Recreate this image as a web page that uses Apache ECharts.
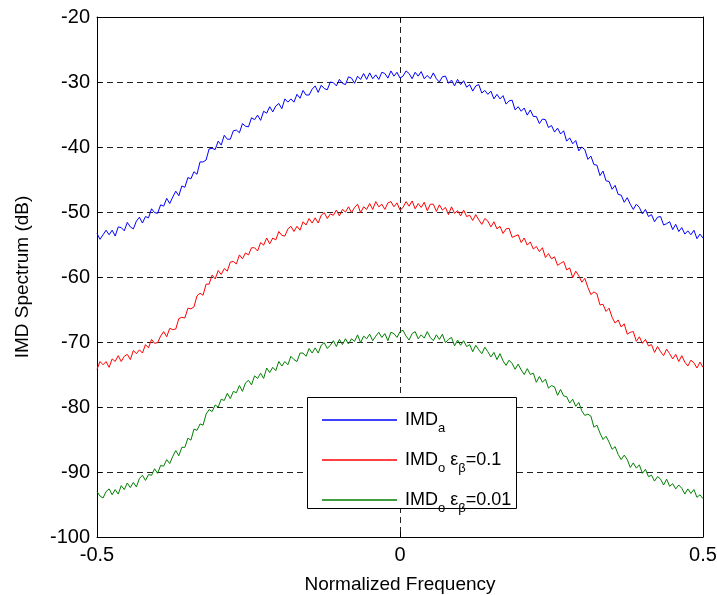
<!DOCTYPE html>
<html>
<head>
<meta charset="utf-8">
<title>IMD Spectrum</title>
<script src="https://cdn.jsdelivr.net/npm/echarts@6/dist/echarts.min.js"></script>
<style>
  html, body { margin: 0; padding: 0; background: #fff; }
  #chart { width: 717px; height: 595px; }
</style>
</head>
<body>
<div id="chart"></div>
<script>
// Sample grid on the normalized-frequency axis (-0.5 .. 0.5, step 0.005)
const freqStart = -0.5;
const freqStep = 0.005;

// Values (dB), one per frequency sample
const imdA = [
  -53.3, -54.2, -53.5, -52.8, -53.5, -52.8, -53.7, -52.3, -52.4, -52.9,
  -51.6, -52.3, -52.6, -51.4, -50.8, -51.7, -50.7, -50.9, -49.5, -50.1,
  -50.2, -48.9, -49.1, -47.9, -48.7, -47.7, -46.8, -47.5, -46.0, -46.2,
  -44.7, -44.9, -43.8, -44.2, -42.3, -42.3, -42.0, -40.3, -40.2, -40.4,
  -39.1, -39.7, -38.2, -38.8, -38.8, -37.5, -37.4, -37.8, -36.4, -36.8,
  -36.9, -35.5, -35.8, -35.1, -35.9, -34.5, -34.8, -33.8, -34.6, -33.7,
  -33.3, -34.1, -32.6, -33.1, -32.6, -33.1, -31.9, -32.5, -31.3, -32.0,
  -32.0, -31.1, -30.6, -31.6, -30.5, -31.0, -31.2, -30.0, -30.1, -30.6,
  -29.6, -30.2, -30.4, -29.2, -29.4, -30.2, -29.1, -29.6, -28.7, -29.6,
  -28.6, -29.5, -28.9, -29.6, -28.5, -28.7, -29.4, -28.3, -29.1, -28.5,
  -29.4,
  -29.1, -28.3, -28.7, -29.5, -28.5, -29.1, -28.4, -29.5, -29.0, -29.5,
  -28.6, -29.5, -30.0, -29.2, -29.1, -30.2, -29.7, -30.6, -29.6, -30.4,
  -29.8, -30.8, -30.4, -31.4, -30.6, -30.4, -31.7, -31.3, -31.9, -31.4,
  -32.6, -31.9, -32.6, -32.1, -33.4, -32.9, -32.8, -34.3, -33.8, -34.5,
  -34.0, -35.1, -34.3, -35.3, -35.3, -36.4, -35.7, -35.8, -37.0, -36.7,
  -37.7, -37.1, -38.0, -37.5, -39.1, -38.6, -39.5, -39.0, -40.6, -40.0,
  -40.4, -41.9, -41.4, -42.7, -42.8, -44.4, -43.7, -45.2, -45.3, -46.5,
  -45.9, -47.3, -47.4, -48.5, -47.8, -48.8, -49.6, -48.8, -49.3, -50.3,
  -49.6, -50.7, -50.4, -51.5, -50.8, -50.7, -52.0, -51.8, -51.5, -52.7,
  -51.9, -53.0, -52.4, -53.4, -52.9, -53.5, -52.8, -54.1, -53.4, -54.0
];

const imdO01 = [
  -74.2, -73.0, -73.5, -73.0, -73.9, -72.6, -73.0, -72.1, -73.0, -72.2,
  -71.9, -72.7, -71.3, -71.8, -71.2, -71.7, -70.4, -70.9, -69.6, -70.2,
  -70.1, -69.1, -68.4, -69.2, -67.9, -68.1, -68.0, -66.4, -66.2, -66.3,
  -64.8, -64.9, -64.6, -62.9, -62.5, -62.8, -61.1, -61.1, -59.7, -60.3,
  -59.0, -59.6, -58.7, -59.1, -57.7, -57.6, -58.0, -56.6, -57.2, -56.3,
  -56.6, -55.5, -55.5, -56.0, -54.7, -55.1, -54.0, -54.9, -54.0, -54.3,
  -53.0, -53.6, -53.7, -52.6, -52.2, -53.0, -52.2, -52.8, -51.5, -52.0,
  -51.0, -51.7, -50.9, -51.7, -50.5, -50.1, -51.0, -50.3, -50.5, -49.7,
  -50.6, -49.6, -50.0, -49.2, -50.1, -49.3, -48.8, -50.1, -49.2, -49.6,
  -48.7, -49.6, -48.4, -49.2, -48.8, -49.6, -48.6, -48.4, -49.2, -48.6,
  -49.7,
  -49.3, -48.4, -49.1, -48.3, -49.5, -48.7, -49.3, -48.5, -49.8, -48.8,
  -48.8, -49.9, -48.9, -49.7, -49.3, -50.4, -49.2, -50.2, -49.8, -50.6,
  -49.7, -50.7, -50.5, -51.3, -50.4, -51.2, -51.9, -51.0, -51.4, -52.3,
  -51.5, -52.6, -52.2, -53.3, -52.6, -52.5, -53.9, -53.7, -53.5, -54.7,
  -54.0, -55.1, -54.6, -55.7, -55.3, -56.1, -55.5, -57.0, -56.4, -57.2,
  -56.9, -58.2, -57.9, -57.6, -58.9, -58.6, -60.1, -59.1, -59.8, -60.8,
  -60.2, -61.6, -62.7, -62.3, -62.6, -64.3, -64.2, -65.3, -64.8, -66.2,
  -67.1, -66.6, -67.7, -67.2, -68.8, -68.5, -68.4, -69.9, -69.2, -70.2,
  -69.6, -70.6, -70.4, -71.6, -70.7, -71.5, -72.1, -71.1, -71.8, -72.6,
  -71.9, -73.0, -72.1, -73.1, -73.7, -72.8, -73.2, -74.0, -73.1, -73.9
];

const imdO001 = [
  -93.0, -93.7, -94.0, -93.0, -92.6, -93.5, -92.7, -93.4, -92.1, -92.7,
  -91.7, -92.4, -91.6, -92.3, -91.0, -90.5, -91.3, -90.4, -90.5, -89.5,
  -90.2, -89.0, -89.1, -88.1, -88.7, -87.6, -86.7, -87.5, -86.2, -86.2,
  -84.8, -85.1, -83.4, -83.6, -82.6, -82.8, -81.1, -80.4, -80.7, -79.7,
  -80.0, -78.8, -79.0, -77.9, -78.7, -77.6, -77.8, -76.7, -77.6, -76.3,
  -75.9, -76.6, -75.2, -75.6, -74.8, -75.6, -74.0, -74.7, -73.9, -74.4,
  -73.0, -73.7, -73.0, -73.5, -72.2, -72.7, -73.0, -71.7, -71.7, -72.2,
  -71.0, -71.7, -70.9, -71.7, -70.5, -70.1, -71.0, -70.5, -69.8, -70.7,
  -69.6, -70.4, -69.5, -70.3, -69.5, -69.9, -68.9, -70.1, -69.1, -69.5,
  -68.8, -69.8, -69.1, -68.5, -69.3, -68.7, -69.8, -68.5, -68.7, -69.3,
  -68.4,
  -68.2, -69.1, -69.7, -68.7, -68.4, -69.5, -68.9, -69.4, -68.4, -69.3,
  -69.8, -68.9, -69.6, -68.8, -70.1, -69.6, -69.3, -70.6, -69.7, -70.5,
  -69.8, -70.7, -70.4, -71.5, -70.5, -71.2, -71.8, -70.8, -71.5, -72.3,
  -71.6, -72.7, -71.8, -72.9, -73.6, -72.8, -73.3, -74.2, -73.4, -74.3,
  -75.0, -74.1, -75.0, -74.8, -76.2, -75.3, -76.2, -75.7, -77.1, -76.7,
  -76.9, -78.2, -77.3, -78.3, -78.4, -79.4, -78.8, -79.9, -79.3, -80.6,
  -81.3, -81.1, -81.4, -83.1, -82.8, -84.0, -85.0, -84.5, -85.4, -86.5,
  -86.1, -87.3, -88.1, -87.4, -88.1, -89.3, -88.6, -89.4, -88.9, -90.2,
  -89.6, -90.7, -90.5, -91.4, -90.7, -91.1, -92.0, -91.1, -92.2, -91.8,
  -92.6, -92.0, -92.5, -93.4, -92.6, -93.3, -92.7, -93.9, -93.5, -94.1
];

const seriesNames = ['IMDa', 'IMDo01', 'IMDo001'];
const seriesColors = ['#0000ff', '#ff0000', '#008000'];

// pair each value with its frequency sample
function toPairs(values) {
  return values.map((v, i) => [+(freqStart + i * freqStep).toFixed(3), v]);
}

const FONT = 'Liberation Sans, Arial, sans-serif';
const chart = echarts.init(document.getElementById('chart'));

const dashed = { show: true, lineStyle: { color: '#222', width: 1, type: [6, 4] } };
const boxLine = { show: true, onZero: false, lineStyle: { color: '#000', width: 1 } };
const inTick = { show: true, inside: true, length: 5, lineStyle: { color: '#000' } };

chart.setOption({
  animation: false,
  backgroundColor: '#fff',
  // fixed plot box; don't let v6 shrink it to fit the axis names
  grid: { left: 97, right: 14, top: 17, bottom: 58, containLabel: false, outerBoundsMode: 'none' },
  xAxis: [
    {
      type: 'value', min: -0.5, max: 0.5, interval: 0.5,
      name: 'Normalized Frequency', nameLocation: 'middle', nameGap: 38,
      nameTextStyle: { fontFamily: FONT, fontSize: 19, color: '#000' },
      axisLine: boxLine, axisTick: inTick,
      axisLabel: { fontFamily: FONT, fontSize: 20, color: '#000', margin: 8 },
      splitLine: dashed
    },
    {
      type: 'value', min: -0.5, max: 0.5, interval: 0.5, position: 'top',
      axisLine: boxLine, axisTick: inTick, axisLabel: { show: false }, splitLine: { show: false }
    }
  ],
  yAxis: [
    {
      type: 'value', min: -100, max: -20, interval: 10,
      name: 'IMD Spectrum (dB)', nameLocation: 'middle', nameGap: 65,
      nameTextStyle: { fontFamily: FONT, fontSize: 19, color: '#000' },
      axisLine: boxLine, axisTick: inTick,
      axisLabel: { fontFamily: FONT, fontSize: 20, color: '#000', margin: 7 },
      splitLine: dashed
    },
    {
      type: 'value', min: -100, max: -20, interval: 10, position: 'right',
      axisLine: boxLine, axisTick: inTick, axisLabel: { show: false }, splitLine: { show: false }
    }
  ],
  // legend frame
  graphic: [{
    type: 'rect', z: 10,
    shape: { x: 307.5, y: 397.5, width: 209, height: 111 },
    style: { fill: '#fff', stroke: '#000', lineWidth: 1 }
  }],
  legend: {
    z: 20,
    orient: 'vertical',
    left: 322, top: 411,
    padding: 0,
    itemGap: 16,
    itemWidth: 75, itemHeight: 1.5,
    icon: 'rect',
    data: seriesNames,
    formatter: function (name) {
      if (name === 'IMDa') return '{g| }{m|IMD}{s|a}';
      if (name === 'IMDo01') return '{g| }{m|IMD}{s|o}{m| ε}{s|β}{m|=0.1}';
      return '{g| }{m|IMD}{s|o}{m| ε}{s|β}{m|=0.01}';
    },
    textStyle: {
      fontFamily: FONT, color: '#000',
      rich: {
        g: { width: 3, fontSize: 10, lineHeight: 30 },
        m: { fontFamily: FONT, fontSize: 18, color: '#000', lineHeight: 30, verticalAlign: 'middle' },
        s: { fontFamily: FONT, fontSize: 13, color: '#000', lineHeight: 6, verticalAlign: 'bottom' }
      }
    }
  },
  series: [imdA, imdO01, imdO001].map((vals, k) => ({
    name: seriesNames[k],
    type: 'line',
    data: toPairs(vals),
    showSymbol: false,
    symbol: 'none',
    lineStyle: { color: seriesColors[k], width: 1 },
    itemStyle: { color: seriesColors[k] },
    z: 2
  }))
});
</script>
</body>
</html>
